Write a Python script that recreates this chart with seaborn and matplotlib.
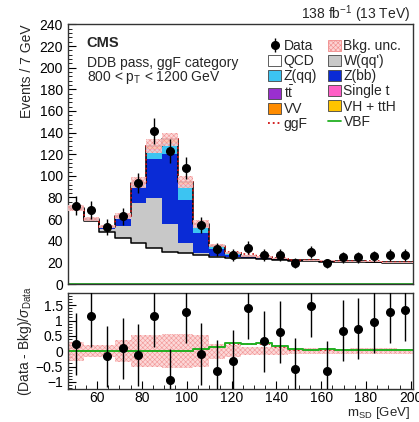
import numpy as np
import pandas as pd
import matplotlib
matplotlib.use("Agg")
import matplotlib.pyplot as plt
import seaborn as sns
from matplotlib.patches import Patch
from matplotlib.lines import Line2D
from matplotlib.ticker import AutoMinorLocator, MultipleLocator, FuncFormatter

sns.set_theme(style="ticks")
plt.rcParams["font.family"] = ["Liberation Sans", "DejaVu Sans"]
plt.rcParams["mathtext.fontset"] = "custom"
plt.rcParams["mathtext.rm"] = "Liberation Sans"
plt.rcParams["mathtext.it"] = "Liberation Sans:italic"
plt.rcParams["hatch.linewidth"] = 0.4

# soft-drop mass binning, 7 GeV bins
edges = np.arange(47, 202, 7)
centers = 0.5 * (edges[:-1] + edges[1:])

data = [72.5, 68.8, 52.7, 62.6, 93.4, 141.3, 123.4, 107.3, 54.5, 32.0, 26.8,
        33.6, 26.8, 26.8, 19.7, 29.5, 19.0, 24.6, 24.6, 25.8, 26.8, 26.8]
pulls = [0.23, 1.15, -0.17, 0.09, -0.12, 1.15, -0.93, 1.28, -0.09, -0.64, -0.32,
         1.40, 0.32, 0.63, -0.58, 1.46, -0.66, 0.67, 0.73, 0.95, 1.27, 1.34]

qcd = [69.5, 58.3, 48.3, 42.8, 37.5, 33.5, 29.8, 28.3, 26.7, 25.2, 24.5,
       23.8, 23.2, 22.3, 21.45, 20.95, 20.65, 20.35, 20.15, 19.95, 19.45, 19.15]
wqq = [0.6, 0.8, 2.5, 11.1, 37.0, 46.3, 25.3, 9.2, 1.6, 0.8, 0.5,
       0.3, 0.2, 0.2, 0.1, 0.1, 0.1, 0.1, 0.1, 0.1, 0.1, 0.1]
zbb = [0.2, 0.3, 1.2, 6.5, 14.8, 35.4, 64.8, 40.1, 18.5, 6.3, 2.0,
       0.8, 0.4, 0.2, 0.1, 0.1, 0.1, 0.1, 0.1, 0.1, 0.1, 0.1]
zqq = [0.0, 0.1, 0.2, 1.0, 2.2, 8.6, 10.1, 13.9, 6.8, 1.6, 0.4,
       0.2, 0.1, 0.1, 0.05, 0.05, 0.05, 0.05, 0.05, 0.05, 0.05, 0.05]
ttbar = [0.1, 0.2, 0.3, 0.5, 0.5, 0.6, 0.6, 0.5, 0.4, 0.4, 0.4,
         0.4, 0.4, 0.4, 0.4, 0.4, 0.4, 0.4, 0.4, 0.4, 0.4, 0.4]
singlet = [0.05, 0.05, 0.1, 0.2, 0.2, 0.2, 0.2, 0.2, 0.2, 0.2, 0.2,
           0.2, 0.2, 0.1, 0.1, 0.1, 0.1, 0.1, 0.1, 0.1, 0.1, 0.1]
vv = [0.05, 0.1, 0.3, 0.6, 1.2, 2.5, 2.4, 1.6, 0.8, 0.4, 0.2,
      0.1, 0.1, 0.1, 0.05, 0.05, 0.05, 0.05, 0.05, 0.05, 0.05, 0.05]
vh = [0.0, 0.0, 0.1, 0.2, 0.3, 0.5, 0.6, 0.6, 0.5, 0.5, 0.4,
      0.3, 0.2, 0.1, 0.05, 0.05, 0.05, 0.05, 0.05, 0.05, 0.05, 0.05]
ggf = [0.05, 0.05, 0.05, 0.05, 0.05, 0.05, 0.05, 0.1, 0.45, 0.75, 1.15,
       1.3, 1.15, 0.75, 0.2, 0.2, 0.2, 0.2, 0.2, 0.2, 0.2, 0.2]
vbf = [0.02, 0.02, 0.02, 0.02, 0.02, 0.02, 0.02, 0.02, 0.05, 0.1, 0.15,
       0.15, 0.15, 0.1, 0.05, 0.05, 0.05, 0.05, 0.05, 0.05, 0.05, 0.05]
bkg_unc = [2.6, 1.7, 1.45, 2.8, 5.0, 6.2, 6.1, 5.7, 3.8, 1.4, 1.0,
           0.75, 0.67, 0.67, 0.36, 0.54, 0.44, 0.4, 0.5, 0.5, 0.5, 0.41]

bkg_names = ["QCD", "W(qq')", "Z(bb)", "Z(qq)", r"$\mathrm{t\bar{t}}$", "Single t", "VV", "VH + ttH"]
bkg_vals = [qcd, wqq, zbb, zqq, ttbar, singlet, vv, vh]
bkg_colors = ["white", "#c8c8c8", "#0a2bd6", "#3cc4f2", "#9a2fcf", "#ff5fc6", "#ff8c00", "#ffc400"]

unc_face = "#fcd2d2"
unc_edge = "#f08a8a"


def step_hist(ax, weights, **kws):
    """Draw one binned distribution as a step histogram."""
    frame = pd.DataFrame({"m": centers, "w": np.asarray(weights, dtype=float)})
    sns.histplot(data=frame, x="m", weights="w", bins=edges.tolist(), element="step",
                 ax=ax, **kws)


fig = plt.figure(figsize=(4.19, 4.22), dpi=100)
ax = fig.add_axes([0.162, 0.327, 0.824, 0.615])
rax = fig.add_axes([0.162, 0.079, 0.824, 0.227], sharex=ax)

# stacked backgrounds: draw cumulative layers from the top down
cum = np.cumsum(np.array(bkg_vals), axis=0)
for i in reversed(range(len(bkg_vals))):
    step_hist(ax, cum[i], fill=True, color=bkg_colors[i], alpha=1, linewidth=0)
total = cum[-1]

# outline of QCD and of the total background
for vals in (cum[0], total):
    step_hist(ax, vals, fill=False, color="black", linewidth=1.1)

# background uncertainty band
lo = np.append(total - np.array(bkg_unc), total[-1] - bkg_unc[-1])
hi = np.append(total + np.array(bkg_unc), total[-1] + bkg_unc[-1])
ax.fill_between(edges, lo, hi, step="post", facecolor=unc_face, edgecolor=unc_edge,
                hatch="xxxxxxx", linewidth=0, alpha=0.85, zorder=3)

# signals
step_hist(ax, total + np.array(ggf), fill=False, color="#d01010", linestyle=":", linewidth=1.2)
step_hist(ax, vbf, fill=False, color="#22b022", linewidth=1.3)

# data
data_arr = np.array(data)
dat = ax.errorbar(centers, data_arr, yerr=np.sqrt(data_arr), fmt="o", color="black",
                  markersize=5.5, elinewidth=1, capsize=0, zorder=6)

ax.set_xlim(47, 201)
ax.set_ylim(0, 240)
ax.yaxis.set_major_locator(MultipleLocator(20))
ax.yaxis.set_minor_locator(AutoMinorLocator(5))
ax.xaxis.set_major_locator(MultipleLocator(20))
ax.xaxis.set_minor_locator(AutoMinorLocator(4))
ax.tick_params(axis="x", labelbottom=False)
ax.set_xlabel("")
ax.set_ylabel("Events / 7 GeV", fontsize=10, loc="top", labelpad=4)

ax.text(0.055, 0.93, "CMS", transform=ax.transAxes, fontsize=10.5, fontweight="bold",
        va="center", ha="left")
ax.text(0.055, 0.852, "DDB pass, ggF category", transform=ax.transAxes, fontsize=10,
        va="center", ha="left")
ax.text(0.055, 0.794, r"800 < p$_\mathrm{T}$ < 1200 GeV", transform=ax.transAxes,
        fontsize=10, va="center", ha="left")
ax.text(0.99, 1.022, r"138 fb$^{-1}$ (13 TeV)", transform=ax.transAxes, fontsize=10,
        va="baseline", ha="right")

# legend
h = {
    "data": dat,
    "unc": Patch(facecolor=unc_face, edgecolor=unc_edge, hatch="xxxxxxx", linewidth=0.6),
    "ggf": Line2D([], [], color="#d01010", linestyle=":", linewidth=1.3),
    "vbf": Line2D([], [], color="#22b022", linewidth=1.3),
}
bkg_patch = [Patch(facecolor=c, edgecolor="#444444", linewidth=0.6) for c in bkg_colors]
handles = [h["data"], bkg_patch[0], bkg_patch[3], bkg_patch[4], bkg_patch[6], h["ggf"],
           h["unc"], bkg_patch[1], bkg_patch[2], bkg_patch[5], bkg_patch[7], h["vbf"]]
labels = ["Data", "QCD", "Z(qq)", bkg_names[4], "VV", "ggF",
          "Bkg. unc.", "W(qq')", "Z(bb)", "Single t", "VH + ttH", "VBF"]
ax.legend(handles, labels, ncol=2, loc="upper right", bbox_to_anchor=(0.982, 0.965),
          frameon=False, fontsize=10, handlelength=0.9, handleheight=0.8,
          handletextpad=0.2, columnspacing=0.8, labelspacing=0.08, borderaxespad=0)

# ratio panel
band = np.array(bkg_unc) / np.sqrt(data_arr)
rax.fill_between(edges, np.append(-band, -band[-1]), np.append(band, band[-1]), step="post",
                 facecolor=unc_face, edgecolor=unc_edge, hatch="xxxxxxx", linewidth=0,
                 alpha=0.85, zorder=1)
sig_ggf = np.array(ggf) / np.sqrt(data_arr)
sig_all = (np.array(ggf) + np.array(vbf)) / np.sqrt(data_arr)
step_hist(rax, sig_ggf, fill=False, color="#d01010", linestyle=":", linewidth=1.2)
step_hist(rax, sig_all, fill=False, color="#22b022", linewidth=1.4)
rax.errorbar(centers, pulls, yerr=np.ones(len(pulls)), fmt="o", color="black",
             markersize=5.5, elinewidth=1, capsize=0, zorder=6)

rax.set_ylim(-1.22, 1.9)
rax.yaxis.set_major_locator(MultipleLocator(0.5))
rax.yaxis.set_minor_locator(AutoMinorLocator(5))
rax.yaxis.set_major_formatter(FuncFormatter(lambda v, p: ("%g" % v).replace("-", "\u2212")))
rax.xaxis.set_minor_locator(AutoMinorLocator(4))
rax.set_xlabel(r"m$_\mathrm{SD}$ [GeV]", fontsize=9.5)
rax.xaxis.set_label_coords(0.99, -0.175)
rax.xaxis.label.set_horizontalalignment("right")
rax.xaxis.label.set_verticalalignment("top")
rax.set_ylabel(r"(Data - Bkg)/$\sigma_\mathrm{Data}$", fontsize=10, labelpad=1)

for a in (ax, rax):
    a.tick_params(which="both", direction="in", labelsize=10, colors="black")
    a.tick_params(which="major", length=6, width=0.8)
    a.tick_params(which="minor", length=3, width=0.6)
    for s in a.spines.values():
        s.set_color("#333333")
        s.set_linewidth(1.0)
rax.tick_params(axis="x", which="major", pad=1.5)

fig.savefig("out.png", dpi=100)
